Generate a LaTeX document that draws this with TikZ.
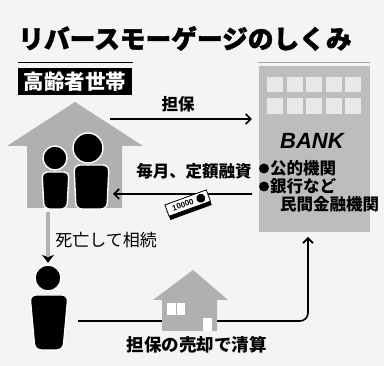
\documentclass[tikz,border=0pt]{standalone}
\usepackage{fontspec}
\usepackage{pdfrender}
\newfontfamily\jp{Noto Sans CJK JP}
\newfontfamily\jpheavy{Noto Sans CJK JP}[BoldFeatures={FakeBold=1.6}]
\newfontfamily\latin{Liberation Sans}
\usetikzlibrary{arrows.meta,calc}

% outlined lettering: fill in one colour, stroke in another
\newcommand\outlined[3]{\textpdfrender{TextRenderingMode=FillStroke,LineWidth=#1,StrokeColor=black,FillColor=#2}{#3}}

\tikzset{
  houseshape/.style={fill=gray!62},
  bankbox/.style={fill=gray!52, draw=none, inner sep=0},
  winbox/.style={fill=gray!18},
  person/.style={fill=black, draw=white, line width=1.4pt},
  flow/.style={line width=1.6pt, -{Straight Barb[length=5pt,width=10pt,line width=1.6pt]}},
  lbl/.style={font=\jp\bfseries\fontsize{16.5}{18}\selectfont, inner sep=0},
  banklbl/.style={font=\jp\bfseries\fontsize{16.5}{18}\selectfont, inner sep=0, anchor=west},
}

\begin{document}
\begin{tikzpicture}[x=1pt,y=-1pt]
  % page
  \fill[gray!9] (0,0) rectangle (384,366);
  \useasboundingbox (0,0) rectangle (384,366);

  % heading
  \node[font=\jpheavy\bfseries\fontsize{25.7}{28}\selectfont, inner sep=0] (title) at (185,38.5) {リバースモーゲージのしくみ};
  \draw[line width=1.5pt] (18,62.5) -- (133,62.5);
  \draw[line width=1pt, gray!70] (258,62.5) -- (370,62.5);

  % household
  \node[fill=black, text=white, font=\jp\bfseries\fontsize{20.5}{22}\selectfont,
        minimum width=114pt, minimum height=27pt, inner sep=0] (household) at (75,81.5) {高齢者世帯};
  \fill[houseshape] (7,146) -- (75,102) -- (143,146) -- (122,146) -- (122,208) -- (27,208) -- (27,146) -- cycle;
  \coordinate (house-bottom) at (48,212);
  % two residents
  \draw[person] (55,158) circle (12);
  \draw[person, rounded corners=5pt] (42,172) -- (69,172) -- (67,209) -- (44,209) -- cycle;
  \draw[person] (88,148) circle (15);
  \draw[person, rounded corners=6pt] (74,165) -- (109,165) -- (107,209) -- (76,209) -- cycle;

  % bank
  \node[bankbox, minimum width=111pt, minimum height=166pt] (bank) at (314.5,149) {};
  \foreach \wx in {267,286.5,306,325.5,345}{
    \fill[winbox] (\wx,77) rectangle ++(16,15);
    \fill[winbox] (\wx,98) rectangle ++(16,16);
  }
  \node[font=\latin\bfseries\itshape\fontsize{22}{24}\selectfont, inner sep=0] (banklogo) at (312,141) {\outlined{1.2}{white}{BANK}};
  \fill (264,168.5) circle (5);
  \node[banklbl] (public) at (270,168) {\outlined{0.7}{white}{公的機関}};
  \fill (264,186.5) circle (5);
  \node[banklbl] (banks) at (270,186) {\outlined{0.7}{white}{銀行など}};
  \node[banklbl] (private) at (280,204) {民間金融機関};

  % collateral
  \coordinate (pledge-start) at (110,119);
  \draw[flow] (pledge-start) -- ([xshift=-7pt]bank.west |- pledge-start);
  \node[lbl] (pledge) at (178,104) {担保};

  % monthly loan
  \coordinate (loan-end) at (113,194);
  \draw[flow] ([xshift=-7pt]bank.west |- loan-end) -- (loan-end);
  \node[lbl] (loan) at (194,171) {毎月、定額融資};
  \begin{scope}[shift={(188,204)}, rotate=20]
    \fill[black] (-22,-3) rectangle (22,9);
    \draw[fill=white, line width=0.8pt] (-22,-7) rectangle (22,5);
    \node[font=\latin\bfseries\fontsize{8}{9}\selectfont, inner sep=0, transform shape] (note) at (-5,-1) {10000};
    \fill (14,-1) circle (4.5);
  \end{scope}

  % heir
  \draw[person] (48,278) circle (13);
  \node[inner sep=0, minimum size=26pt] (heir-head) at (48,278) {};
  \draw[person, rounded corners=6pt] (30,295) -- (68,295) -- (63,350) -- (35,350) -- cycle;
  \coordinate (heir-side) at (78,321);
  \draw[line width=4pt, gray!60, -{Stealth[length=8pt,width=12pt,black]}, shorten >=2pt] (house-bottom) -- (heir-head.north);
  \node[font=\jp\fontsize{17}{19}\selectfont, inner sep=0] (inherit) at (106,240) {死亡して相続};

  % sale of the collateral settles the loan
  \coordinate (bank-in) at (308,232);
  \draw[flow, rounded corners=8pt, shorten >=5pt] (heir-side) -- (heir-side -| bank-in) -- (bank-in);
  \fill[houseshape] (153,300) -- (193,270) -- (228,300) -- (217,300) -- (217,331) -- (162,331) -- (162,300) -- cycle;
  \fill[white] (167,303) rectangle (185,315);
  \draw[gray!62, line width=1pt] (176,303) -- (176,315);
  \fill[white] (203,318) rectangle (212,331);
  \node[lbl, font=\jp\bfseries\fontsize{17.5}{19}\selectfont] (settle) at (197,345) {担保の売却で清算};
\end{tikzpicture}
\end{document}
